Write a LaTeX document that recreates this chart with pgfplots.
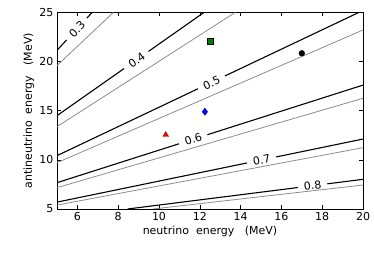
\documentclass[border=0pt]{standalone}
\usepackage{fontspec}
\setmainfont{DejaVu Sans}
\usepackage{pgfplots}
\pgfplotsset{compat=1.18}
\definecolor{mplgreen}{RGB}{0,128,0}
\definecolor{cgray}{RGB}{140,140,140}
\begin{document}
\begin{tikzpicture}
\begin{axis}[
  scale only axis, width=306pt, height=196.5pt,
  xmin=5, xmax=20, ymin=5, ymax=25,
  xtick={6,8,...,20}, ytick={5,10,...,25},
  tick align=inside,
  major tick length=4pt,
  tick style={black, line width=0.6pt},
  axis line style={line width=0.9pt},
  /pgf/number format/assume math mode=true,
  tick label style={font=\fontsize{11}{13}\selectfont},
  label style={font=\fontsize{11}{13}\selectfont},
  xlabel={neutrino\ \ energy\ \ \ (MeV)},
  ylabel={antineutrino\ \ energy\ \ \ (MeV)},
  xlabel style={at={(axis description cs:0.5,-0.115)}, anchor=center},
  ylabel style={at={(axis description cs:-0.092,0.5)}, anchor=center},
  clip=true,
]
% black contour lines
\addplot[black, line width=1.1pt] coordinates {(5,21.15) (6.72,25)};
\addplot[black, line width=1.1pt] coordinates {(5,14.5) (12.2,25)};
\addplot[black, line width=1.1pt] coordinates {(5,10.43) (19.79,25)};
\addplot[black, line width=1.1pt] coordinates {(5,7.68) (20,17.61)};
\addplot[black, line width=1.1pt] coordinates {(5,5.70) (20,12.12)};
\addplot[black, line width=1.1pt] coordinates {(8.46,5) (20,8.02)};
% contour labels
\begin{scope}[every node/.style={fill=white, inner xsep=6pt, inner ysep=1.5pt, font=\fontsize{11}{13}\selectfont}]
\node[rotate=46] at (axis cs:5.98,23.3) {0.3};
\node[rotate=35] at (axis cs:8.91,20.1) {0.4};
\node[rotate=25] at (axis cs:12.58,17.85) {0.5};
\node[rotate=17.6] at (axis cs:11.68,12.1) {0.6};
\node[rotate=11.5] at (axis cs:15.03,9.99) {0.7};
\node[rotate=7.2] at (axis cs:17.53,7.37) {0.8};
\end{scope}
% gray lines
\addplot[cgray, line width=0.8pt] coordinates {(5,19.6) (7.76,25)};
\addplot[cgray, line width=0.8pt] coordinates {(5,13.38) (13.73,25)};
\addplot[cgray, line width=0.8pt] coordinates {(5,9.71) (20,23.22)};
\addplot[cgray, line width=0.8pt] coordinates {(5,7.17) (20,16.27)};
\addplot[cgray, line width=0.8pt] coordinates {(5,5.40) (20,11.24)};
\addplot[cgray, line width=0.8pt] coordinates {(9.7,5) (20,7.44)};
% markers
\addplot[only marks, mark=square*, mark size=3pt, mark options={fill=mplgreen, draw=black, line width=0.4pt}] coordinates {(12.5,22.03)};
\addplot[only marks, mark=diamond*, mark size=3.6pt, mark options={fill=blue, draw=blue!60!black, line width=0.4pt}] coordinates {(12.25,14.9)};
\addplot[only marks, mark=triangle*, mark size=3.3pt, mark options={fill=red, draw=red!60!black, line width=0.4pt}] coordinates {(10.33,12.55)};
\addplot[only marks, mark=*, mark size=2.9pt, mark options={fill=black, draw=black}] coordinates {(17.0,20.85)};
\end{axis}
\pgfresetboundingbox
\path[use as bounding box] (-57pt,-44pt) rectangle (317pt,209pt);
\end{tikzpicture}
\end{document}
